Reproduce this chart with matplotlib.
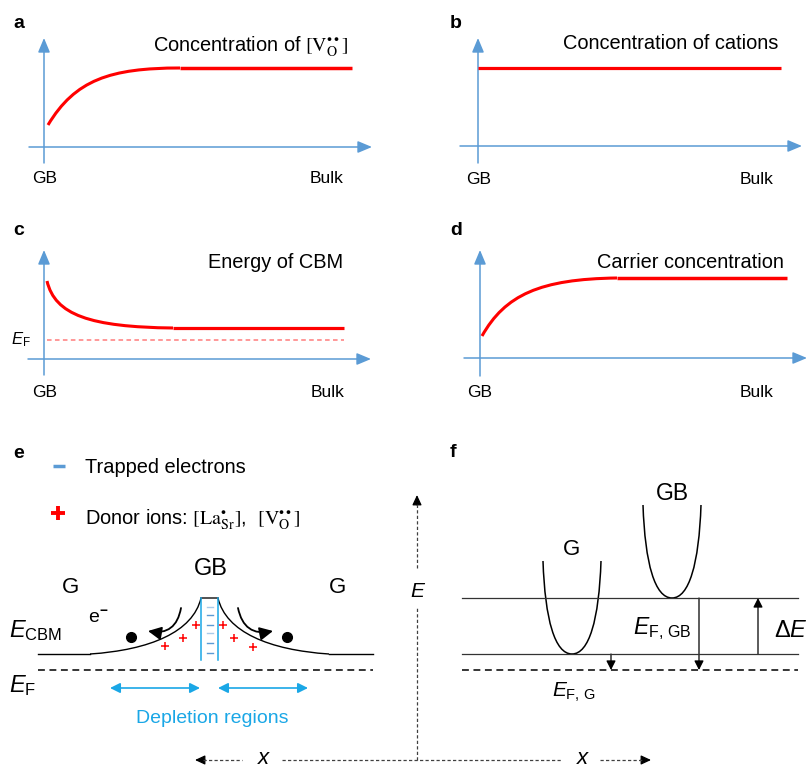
import matplotlib.pyplot as plt
from matplotlib.path import Path
from matplotlib.patches import PathPatch, FancyArrowPatch

plt.rcParams['font.family'] = ['Liberation Sans', 'DejaVu Sans']
plt.rcParams['mathtext.fontset'] = 'custom'
plt.rcParams['mathtext.rm'] = 'Liberation Sans'
plt.rcParams['mathtext.it'] = 'Liberation Sans:italic'
plt.rcParams['mathtext.bf'] = 'Liberation Sans:bold'

AXIS_BLUE = '#5B9BD5'
RED = '#FF0000'
CYAN = '#1AA7E6'

# --- panels a-d : profile from GB to bulk (pixel units of the sheet) ---
# axes: (x start, x tip, x-axis y, y-axis x, y-axis bottom, y tip)
frame_a = (29, 372, 147, 44, 163, 38)
frame_b = (460, 802, 146, 478, 163, 38)
frame_c = (28, 371, 359, 44, 375, 250)
frame_d = (464, 807, 358, 480, 376, 250)

vo_curve = [(48, 125), (75, 80), (110, 68), (180, 68)]
vo_flat = [180, 352]
cation_level = 68
cation_span = [478, 781]
cbm_curve = [(47, 281), (55, 315), (90, 327), (173, 328)]
cbm_flat = [173, 344]
ef_level = 340
ef_span = [47, 344]
carrier_curve = [(482, 336), (505, 295), (540, 279), (617, 278)]
carrier_flat = [617, 787]

# --- panel e : band bending at the boundary ---
band_left = [(201, 598), (193, 632), (150, 650), (90, 654)]
band_right = [(218, 598), (226, 632), (269, 650), (329, 654)]
band_flat_left = [38, 90]
band_flat_right = [329, 373]
band_level = 654
gb_box = (201, 218, 598, 660)
trap_y = [607, 615, 625, 633, 643, 653]
donor_x = [196, 183, 165, 223, 234, 253]
donor_y = [625, 638, 646, 625, 638, 647]
electron_x = [131, 287]
electron_y = [637, 637]
ef_e_level = 670
ef_e_span = [38, 373]
depletion_left = [110, 200]
depletion_right = [218, 308]
depletion_y = 688

# --- shared dashed E / x axes: (start, end) pieces around the labels ---
e_axis_x = 417
e_axis_pieces = [(760, 608), (568, 503)]
x_axis_y = 760
x_axis_pieces = [(203, 242), (282, 562), (600, 643)]

# --- panel f : energy alignment ---
g_band = (572, 654, 561)    # centre x, bottom, top
gb_band = (672, 598, 505)
band_half = 29
f_span = [462, 798]
f_upper = 598
f_lower = 654
f_fermi = 670

fig = plt.figure(figsize=(8.09, 7.68), dpi=100)
ax = fig.add_axes([0, 0, 1, 1])
ax.set_xlim(0, 809)
ax.set_ylim(768, 0)
ax.axis('off')


def bez(pts, **kw):
    codes = [Path.MOVETO] + [Path.CURVE4] * 3
    ax.add_patch(PathPatch(Path(pts, codes), fill=False, **kw))


def arrow(p0, p1, color='k', lw=1.0, hl=0.6, hw=0.3, style='-|>', **kw):
    ax.add_patch(FancyArrowPatch(p0, p1, arrowstyle=f'{style},head_length={hl},head_width={hw}',
                                 mutation_scale=10, color=color, lw=lw,
                                 shrinkA=0, shrinkB=0, **kw))


def frame(fr):
    x0, x1, yx, xy, y0, y1 = fr
    arrow((x0, yx), (x1, yx), AXIS_BLUE, 1.1, 0.86, 0.36)
    arrow((xy, y0), (xy, y1), AXIS_BLUE, 1.1, 0.86, 0.36)


for fr in (frame_a, frame_b, frame_c, frame_d):
    frame(fr)

# a
bez(vo_curve, color=RED, lw=2.2, capstyle='butt')
ax.plot(vo_flat, [vo_curve[-1][1]] * 2, color=RED, lw=2.5, solid_capstyle='butt')
# b
ax.plot(cation_span, [cation_level] * 2, color=RED, lw=2.3, solid_capstyle='butt')
# c
bez(cbm_curve, color=RED, lw=2.2, capstyle='butt')
ax.plot(cbm_flat, [cbm_curve[-1][1]] * 2, color=RED, lw=2.3, solid_capstyle='butt')
ax.plot(ef_span, [ef_level] * 2, color='#FF7C7C', lw=1.1, dashes=(3, 2.2))
# d
bez(carrier_curve, color=RED, lw=2.2, capstyle='butt')
ax.plot(carrier_flat, [carrier_curve[-1][1]] * 2, color=RED, lw=2.5, solid_capstyle='butt')

# panel letters
for s, x, y in [('a', 13, 28), ('b', 450, 28), ('c', 13, 235), ('d', 450, 235),
                ('e', 13, 458), ('f', 450, 457)]:
    ax.text(x, y, s, fontsize=14, fontweight='bold', va='baseline')

ax.text(348, 52, r'Concentration of $[\mathrm{V}_{\mathrm{O}}^{\bullet\bullet}]$', fontsize=14.4,
        ha='right', va='baseline', math_fontfamily='stix')
ax.text(778, 49, 'Concentration of cations', fontsize=14.4, ha='right', va='baseline')
ax.text(343, 268, 'Energy of CBM', fontsize=14.4, ha='right', va='baseline')
ax.text(784, 268, 'Carrier concentration', fontsize=14.4, ha='right', va='baseline')
ax.text(11, 344, r'$E_{\mathrm{F}}$', fontsize=12, va='baseline')

for gx, bx, by in [(45, 327, 183), (479, 757, 184), (45, 328, 397), (480, 757, 397)]:
    ax.text(gx, by, 'GB', fontsize=12.5, ha='center', va='baseline')
    ax.text(bx, by, 'Bulk', fontsize=12.5, ha='center', va='baseline')

# e : legend
ax.plot([53, 65], [466, 466], color=AXIS_BLUE, lw=2.5, solid_capstyle='butt')
ax.text(85, 473, 'Trapped electrons', fontsize=14.4, va='baseline')
ax.plot([58], [513], marker='+', ms=10, mew=2.8, color=RED)
ax.text(85, 525, r'Donor ions: $[\mathrm{La}_{\mathrm{Sr}}^{\bullet}]$,  $[\mathrm{V}_{\mathrm{O}}^{\bullet\bullet}]$',
        fontsize=14.4, va='baseline', math_fontfamily='stix')

# e : bands
bez(band_left, color='k', lw=1.0)
bez(band_right, color='k', lw=1.0)
ax.plot(band_flat_left, [band_level] * 2, color='k', lw=1.0)
ax.plot(band_flat_right, [band_level] * 2, color='k', lw=1.0)
bx0, bx1, by0, by1 = gb_box
ax.plot([bx0, bx1], [by0, by0], color='#333333', lw=1.2)
ax.plot([bx0, bx0], [by0, by1], color=CYAN, lw=1.1)
ax.plot([bx1, bx1], [by0, by1], color=CYAN, lw=1.1)
for i, ty in enumerate(trap_y):
    ax.plot([207, 213], [ty, ty], color='#A9CBEA' if i % 3 == 0 else AXIS_BLUE, lw=1.0)
ax.plot(donor_x, donor_y, ls='none', marker='+', ms=5.5, mew=1.1, color=RED)
ax.plot(electron_x, electron_y, ls='none', marker='o', ms=7, color='k')
arrow((181, 608), (148, 631), 'k', 1.3, 0.8, 0.4, connectionstyle='arc3,rad=-0.5')
arrow((238, 608), (273, 631), 'k', 1.3, 0.8, 0.4, connectionstyle='arc3,rad=0.5')
ax.text(88, 623, r'e$^{\mathbf{-}}$', fontsize=14, va='baseline')
ax.plot(ef_e_span, [ef_e_level] * 2, color='k', lw=1.1, dashes=(4.5, 3))
ax.text(9, 637, r'$E_{\mathrm{CBM}}$', fontsize=17, va='baseline')
ax.text(9, 692, r'$E_{\mathrm{F}}$', fontsize=17, va='baseline')
ax.text(211, 575, 'GB', fontsize=17, ha='center', va='baseline')
ax.text(71, 593, 'G', fontsize=16, ha='center', va='baseline')
ax.text(338, 593, 'G', fontsize=16, ha='center', va='baseline')
arrow((depletion_left[0], depletion_y), (depletion_left[1], depletion_y), CYAN, 1.2, 0.6, 0.3, style='<|-|>')
arrow((depletion_right[0], depletion_y), (depletion_right[1], depletion_y), CYAN, 1.2, 0.6, 0.3, style='<|-|>')
ax.text(212, 723, 'Depletion regions', fontsize=14, color=CYAN, ha='center', va='baseline')

# shared E / x axes
for y0, y1 in e_axis_pieces:
    ax.plot([e_axis_x, e_axis_x], [y0, y1], color='#404040', lw=0.9, dashes=(2.6, 1.8))
for x0, x1 in x_axis_pieces:
    ax.plot([x0, x1], [x_axis_y, x_axis_y], color='#404040', lw=0.9, dashes=(2.6, 1.8))
arrow((e_axis_x, 505), (e_axis_x, 495), 'k', 0.9, 0.6, 0.28)
arrow((205, x_axis_y), (195, x_axis_y), 'k', 0.9, 0.6, 0.28)
arrow((641, x_axis_y), (651, x_axis_y), 'k', 0.9, 0.6, 0.28)
ax.text(e_axis_x, 597, 'E', fontsize=15, style='italic', ha='center', va='baseline')
ax.text(263, 764, 'x', fontsize=16, style='italic', ha='center', va='baseline')
ax.text(582, 764, 'x', fontsize=16, style='italic', ha='center', va='baseline')

# f : levels
ax.plot(f_span, [f_upper] * 2, color='#333333', lw=0.9)
ax.plot(f_span, [f_lower] * 2, color='#333333', lw=0.9)
ax.plot(f_span, [f_fermi] * 2, color='k', lw=1.1, dashes=(4.5, 3))
for cx, bottom, top in (g_band, gb_band):
    bez([(cx - band_half, top), (cx - band_half + 2, bottom - 34),
         (cx - 17, bottom), (cx, bottom)], color='k', lw=1.1)
    bez([(cx + band_half, top), (cx + band_half - 2, bottom - 34),
         (cx + 17, bottom), (cx, bottom)], color='k', lw=1.1)
ax.text(572, 555, 'G', fontsize=16, ha='center', va='baseline')
ax.text(672, 500, 'GB', fontsize=16.5, ha='center', va='baseline')
arrow((611, f_lower), (611, f_fermi), 'k', 0.9, 0.55, 0.28)
arrow((699, f_upper), (699, f_fermi), 'k', 0.9, 0.55, 0.28)
arrow((758, f_lower), (758, f_upper), 'k', 0.9, 0.55, 0.28)
ax.text(633, 634, r'$E_{\mathrm{F},\,\mathrm{GB}}$', fontsize=16.5, va='baseline')
ax.text(552, 697, r'$E_{\mathrm{F},\,\mathrm{G}}$', fontsize=15, va='baseline')
ax.text(774, 637, r'$\Delta E$', fontsize=17, va='baseline')

fig.savefig('out.png', dpi=100)
